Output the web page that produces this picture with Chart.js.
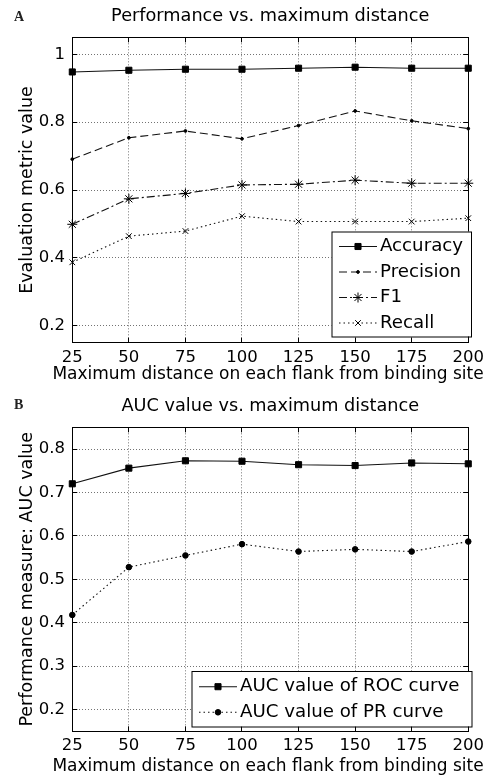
<!DOCTYPE html>
<html>
<head>
<meta charset="utf-8">
<script src="https://cdn.jsdelivr.net/npm/chart.js@4/dist/chart.umd.min.js"></script>
<style>
html, body { margin: 0; padding: 0; background: #fff; }
#wrap { position: relative; width: 494px; height: 780px; }
#wrap canvas { position: absolute; left: 0; }
.tag { position: absolute; font: bold 14px "Liberation Serif", serif; color: #222; line-height: 14px; }
</style>
</head>
<body>
<div id="wrap">
  <canvas id="chartA" width="494" height="390" style="top:0"></canvas>
  <canvas id="chartB" width="494" height="390" style="top:390px"></canvas>
  <div class="tag" style="left:14px;top:10px">A</div>
  <div class="tag" style="left:14px;top:398px">B</div>
</div>
<script>
// data
const distances = [25, 50, 75, 100, 125, 150, 175, 200];
const accuracy  = [0.948, 0.953, 0.956, 0.956, 0.959, 0.962, 0.959, 0.959];
const precision = [0.691, 0.754, 0.774, 0.751, 0.790, 0.833, 0.804, 0.781];
const f1        = [0.499, 0.574, 0.590, 0.615, 0.617, 0.629, 0.620, 0.620];
const recall    = [0.387, 0.464, 0.479, 0.523, 0.507, 0.507, 0.507, 0.517];
const aucRoc    = [0.720, 0.756, 0.773, 0.772, 0.764, 0.762, 0.768, 0.766];
const aucPr     = [0.418, 0.528, 0.555, 0.581, 0.564, 0.569, 0.564, 0.587];

const xTicks  = [25, 50, 75, 100, 125, 150, 175, 200];
const yTicksA = [0.2, 0.4, 0.6, 0.8, 1];
const yTicksB = [0.2, 0.3, 0.4, 0.5, 0.6, 0.7, 0.8];
const xLabel = 'Maximum distance on each flank from binding site';

const FONT = 'DejaVu Sans';
const FS_TITLE = 17.7;
const FS_TICK = 16.5;
const FS_XLAB = 17;
const FS_YLAB = 17.5;
const FS_LEG = 18.2;

function pts(vals) {
    return distances.map(function (d, i) { return {x: d, y: vals[i]}; });
}

function series(label, vals, dash, style, radius, fill) {
    return {
        label: label,
        data: pts(vals),
        borderColor: '#111',
        borderWidth: 1.1,
        borderDash: dash,
        pointStyle: style,
        pointRadius: radius,
        pointBorderWidth: 1,
        pointBorderColor: '#000',
        pointBackgroundColor: fill ? '#000' : 'transparent',
        fill: false,
        tension: 0,
        clip: false
    };
}

// legend box drawn inside the plot, like the matlab one
const boxLegend = {
    id: 'boxLegend',
    afterDatasetsDraw(chart, args, o) {
        const ctx = chart.ctx;
        ctx.save();
        ctx.fillStyle = '#fff';
        ctx.fillRect(o.x, o.y, o.w, o.h);
        ctx.strokeStyle = '#000';
        ctx.lineWidth = 1;
        ctx.setLineDash([]);
        ctx.strokeRect(o.x + 0.5, o.y + 0.5, o.w, o.h);
        chart.data.datasets.forEach(function (ds, i) {
            const y = o.rows[i];
            ctx.strokeStyle = ds.borderColor;
            ctx.lineWidth = ds.borderWidth;
            ctx.setLineDash(ds.borderDash || []);
            ctx.beginPath();
            ctx.moveTo(o.x1, y);
            ctx.lineTo(o.x2, y);
            ctx.stroke();
            ctx.setLineDash([]);
            ctx.fillStyle = ds.pointBackgroundColor;
            ctx.strokeStyle = ds.pointBorderColor;
            ctx.lineWidth = ds.pointBorderWidth;
            Chart.helpers.drawPoint(ctx, {
                pointStyle: ds.pointStyle, radius: ds.pointRadius, rotation: 0, borderWidth: ds.pointBorderWidth
            }, (o.x1 + o.x2) / 2, y);
            ctx.fillStyle = '#000';
            ctx.font = FS_LEG + 'px "' + FONT + '"';
            ctx.textBaseline = 'middle';
            ctx.textAlign = 'left';
            ctx.fillText(ds.label, o.tx, y);
        });
        ctx.restore();
    }
};

// x axis label, drawn here because the scale title gets squeezed to the plot width
const wideXLabel = {
    id: 'wideXLabel',
    afterDraw(chart, args, o) {
        const ctx = chart.ctx;
        ctx.save();
        ctx.fillStyle = '#000';
        ctx.font = FS_XLAB + 'px "' + FONT + '"';
        ctx.textAlign = 'center';
        ctx.textBaseline = 'middle';
        ctx.fillText(o.text, o.x, o.y);
        ctx.restore();
    }
};

function setTicks(list) {
    return function (scale) {
        scale.ticks = list.map(function (v) { return {value: v}; });
    };
}

function makeChart(id, datasets, yMin, yMax, yTicks, yTitle, title, xHeight, xLabY, legend) {
    const grid = {
        color: 'rgba(0,0,0,0.55)',
        tickLength: -5,
        tickColor: '#000',
        tickWidth: 1,
        tickBorderDash: []
    };
    const border = {color: '#000', width: 1, dash: [1, 2]};
    return new Chart(document.getElementById(id), {
        type: 'line',
        data: {datasets: datasets},
        options: {
            responsive: false,
            animation: false,
            devicePixelRatio: 1,
            events: [],
            layout: {padding: {left: 0, right: 20.5, top: 0, bottom: 0}},
            plugins: {
                legend: {display: false},
                tooltip: {enabled: false},
                title: {
                    display: true,
                    text: title,
                    fullSize: false,
                    color: '#000',
                    font: {family: FONT, size: FS_TITLE, weight: 'normal'},
                    padding: {top: 5.5, bottom: 10.6}
                },
                boxLegend: legend,
                wideXLabel: {text: xLabel, x: 268, y: xLabY}
            },
            scales: {
                x: {
                    type: 'linear',
                    min: 25, max: 200,
                    afterBuildTicks: setTicks(xTicks),
                    afterFit: function (s) { s.height = xHeight; },
                    grid: grid,
                    border: border,
                    ticks: {color: '#000', padding: 10, maxRotation: 0, font: {family: FONT, size: FS_TICK},
                        callback: function (v) { return String(v); }},
                    title: {display: false}
                },
                x2: {
                    type: 'linear', position: 'top',
                    min: 25, max: 200,
                    afterBuildTicks: setTicks(xTicks),
                    afterFit: function (s) { s.height = 0; },
                    grid: Object.assign({}, grid, {drawOnChartArea: false}),
                    border: {color: '#000', width: 1},
                    ticks: {display: false}
                },
                y: {
                    min: yMin, max: yMax,
                    afterBuildTicks: setTicks(yTicks),
                    afterFit: function (s) { s.width = 72.3; },
                    grid: grid,
                    border: border,
                    ticks: {color: '#000', padding: 12.3, font: {family: FONT, size: FS_TICK},
                        callback: function (v) { return String(v); }},
                    title: {display: true, text: yTitle, color: '#000',
                        font: {family: FONT, size: FS_YLAB}, padding: {top: 16.5, bottom: 0}}
                },
                y2: {
                    position: 'right',
                    min: yMin, max: yMax,
                    afterBuildTicks: setTicks(yTicks),
                    afterFit: function (s) { s.width = 0; },
                    grid: Object.assign({}, grid, {drawOnChartArea: false}),
                    border: {color: '#000', width: 1},
                    ticks: {display: false}
                }
            }
        },
        plugins: [boxLegend, wideXLabel]
    });
}

makeChart('chartA', [
    series('Accuracy', accuracy, [], 'rect', 4.3, true),
    series('Precision', precision, [8, 4], 'circle', 1.4, true),
    series('F1', f1, [8, 3, 2, 3], 'star', 5, false),
    series('Recall', recall, [1.5, 3], 'crossRot', 4, false)
], 0.15, 1.05, yTicksA, 'Evaluation metric value', 'Performance vs. maximum distance', 47.3, 375,
    {x: 331.5, y: 231.5, w: 139.5, h: 105, rows: [246.5, 272, 297.5, 323], x1: 339, x2: 377, tx: 380});

makeChart('chartB', [
    series('AUC value of ROC curve', aucRoc, [], 'rect', 4.3, true),
    series('AUC value of PR curve', aucPr, [1.5, 3], 'circle', 2.8, true)
], 0.15, 0.85, yTicksB, 'Performance measure: AUC value', 'AUC value vs. maximum distance', 48.7, 377,
    {x: 191.5, y: 281, w: 280, h: 55.5, rows: [296.7, 322.3], x1: 199, x2: 237, tx: 240});
</script>
</body>
</html>
